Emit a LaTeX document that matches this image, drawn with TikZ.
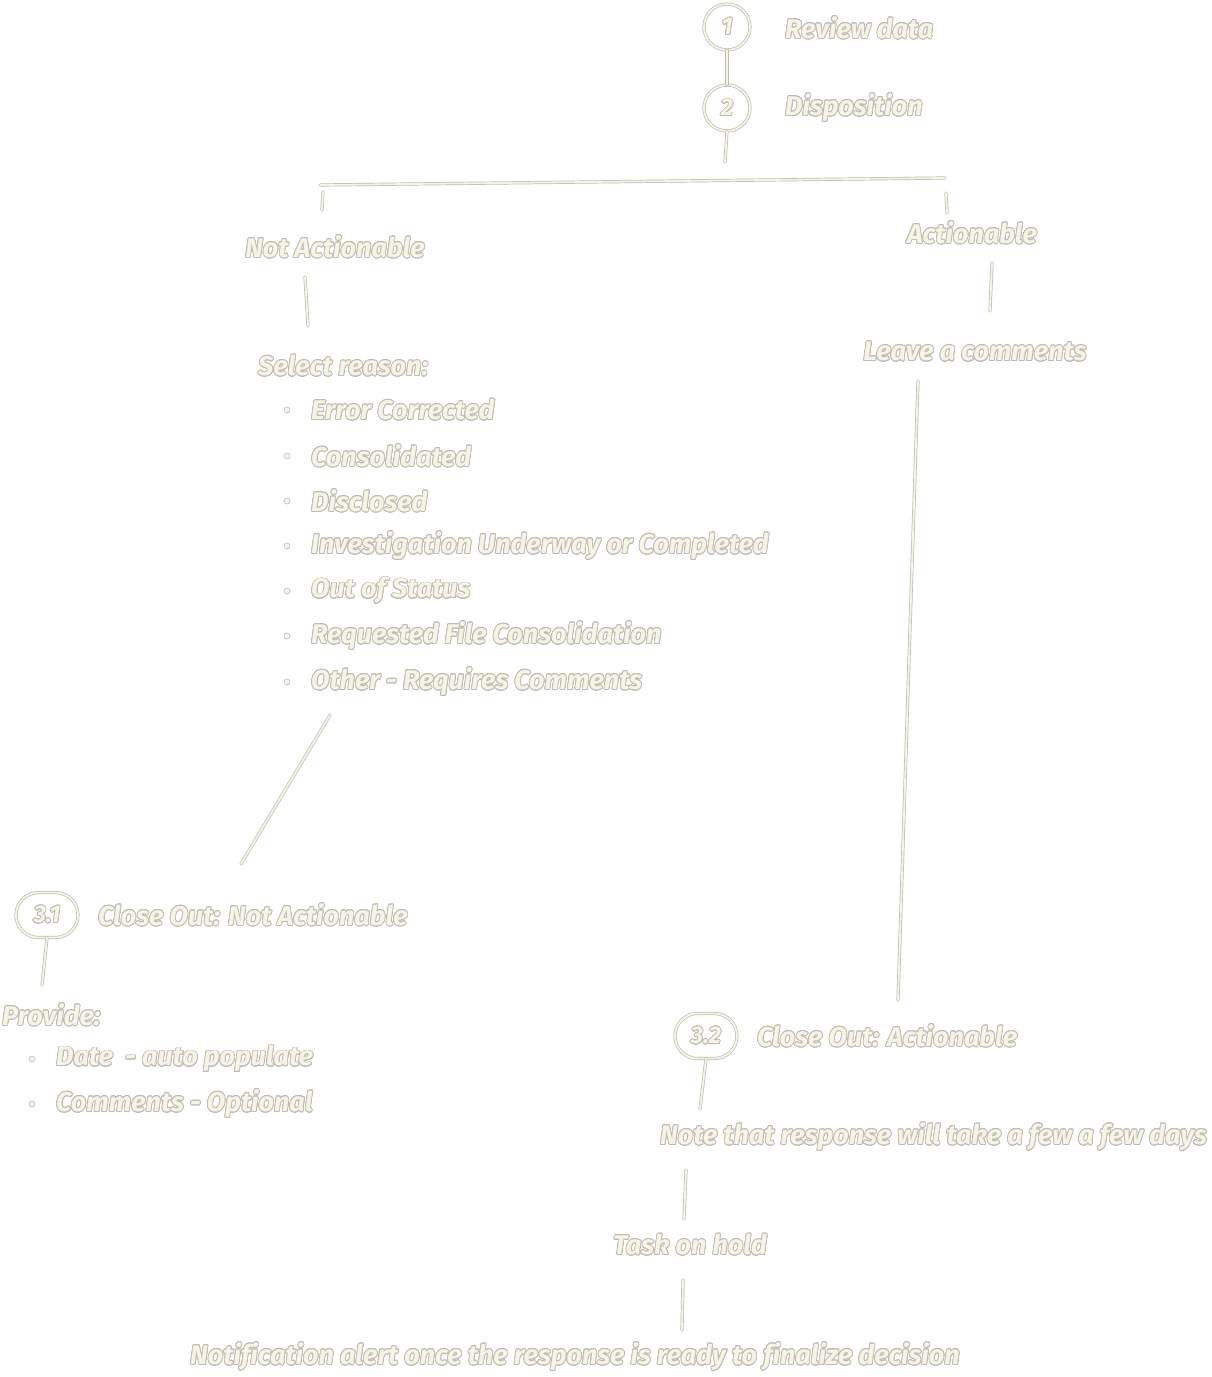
\documentclass[tikz,border=0pt]{standalone}
\usepackage{fontspec}
\setmainfont{Fira Sans}[Ligatures=CommonOff]
\usepackage[copies]{contour}
\contourlength{0.8pt}
\contournumber{16}
\usetikzlibrary{shapes.geometric,shapes.misc}
\definecolor{inkc}{HTML}{BEBCB4}
\definecolor{paperc}{HTML}{F7F4E6}
\newcommand{\ot}[1]{\contour{inkc}{\textcolor{paperc}{#1}}}
\begin{document}
\begin{tikzpicture}[x=1pt,y=-1pt,
  font=\fontsize{27}{32}\selectfont\bfseries\itshape,
  lbl/.style={anchor=west,inner sep=0pt},
  clbl/.style={inner sep=0pt},
  conn/.style={draw=inkc,line width=0.7pt,double=paperc,double distance=1.8pt,line cap=round},
  stepc/.style={circle,draw=inkc,line width=0.7pt,double=paperc,double distance=1.8pt,minimum size=46pt,inner sep=0pt,font=\fontsize{24}{28}\selectfont\bfseries\itshape},
  stepe/.style={rounded rectangle,draw=inkc,line width=0.7pt,double=paperc,double distance=1.8pt,minimum width=62pt,minimum height=45pt,inner sep=0pt,font=\fontsize{24}{28}\selectfont\bfseries\itshape},
  dotb/.style={circle,draw=inkc,fill=paperc,line width=0.6pt,inner sep=0pt,minimum size=6pt}]
\useasboundingbox[fill=white] (0,0) rectangle (1211,1377);

% step 1 and 2
\node[stepc] (s1) at (727,27) {\ot{1}};
\node[stepc] (s2) at (727,108) {\ot{2}};
\node[lbl] (t1) at (785,28) {\ot{Review data}};
\node[lbl] (t2) at (785,108) {\ot{Disposition}};
\draw[conn] (s1.south) -- (s2.north);
\coordinate (s2end) at (725,162);
\draw[conn] (s2.south) -- (s2end);

% branch bar
\coordinate (barL) at (320,185);
\coordinate (barR) at (945,178);
\draw[conn] (barL) -- (barR);
\coordinate (tickLa) at (323,192); \coordinate (tickLb) at (322,210);
\coordinate (tickRa) at (946,193); \coordinate (tickRb) at (947,213);
\draw[conn] (tickLa) -- (tickLb);
\draw[conn] (tickRa) -- (tickRb);

% left branch
\node[clbl] (na) at (335,247) {\ot{Not Actionable}};
\coordinate (naA) at (305,277); \coordinate (naB) at (308,326);
\draw[conn] (naA) -- (naB);
\node[lbl] (sel) at (258,366) {\ot{Select reason:}};
\foreach \i/\t/\yy in {1/Error Corrected/410,2/Consolidated/456,3/Disclosed/501,
  4/Investigation Underway or Completed/546,5/Out of Status/591,
  6/Requested File Consolidation/636,7/Other - Requires Comments/682}{
  \node[dotb] (b\i) at (287,\yy) {};
  \node[lbl] (r\i) at (311,\yy) {\ot{\t}};
}
\coordinate (dgA) at (330,715); \coordinate (dgB) at (241,864);
\draw[conn] (dgA) -- (dgB);

\node[stepe] (s31) at (47,915) {\ot{3.1}};
\node[lbl] (t31) at (98,915) {\ot{Close Out: Not Actionable}};
\coordinate (s31end) at (42,985);
\draw[conn] (s31.south) -- (s31end);
\node[lbl] (prov) at (2,1015) {\ot{Provide:}};
\node[dotb] (pb1) at (32,1059) {};
\node[lbl] (p1) at (56,1059) {\ot{Date\ \ - auto populate}};
\node[dotb] (pb2) at (32,1104) {};
\node[lbl] (p2) at (56,1104) {\ot{Comments - Optional}};

% right branch
\node[clbl] (ac) at (972,233) {\ot{Actionable}};
\coordinate (acA) at (992,263); \coordinate (acB) at (990,311);
\draw[conn] (acA) -- (acB);
\node[clbl] (lc) at (975,352) {\ot{Leave a comments}};
\coordinate (lgA) at (918,381); \coordinate (lgB) at (898,1000);
\draw[conn] (lgA) -- (lgB);

\node[stepe] (s32) at (706,1036) {\ot{3.2}};
\node[lbl] (t32) at (757,1036) {\ot{Close Out: Actionable}};
\coordinate (s32end) at (700,1109);
\draw[conn] (s32.south) -- (s32end);
\node[lbl] (note) at (660,1137) {\ot{Note that response will take a few a few days}};
\coordinate (nA) at (686,1170); \coordinate (nB) at (684,1219);
\draw[conn] (nA) -- (nB);
\node[clbl] (hold) at (690,1245) {\ot{Task on hold}};
\coordinate (hA) at (683,1280); \coordinate (hB) at (682,1330);
\draw[conn] (hA) -- (hB);
\node[clbl] (notif) at (575,1357) {\ot{Notification alert once the response is ready to finalize decision}};
\end{tikzpicture}
\end{document}
